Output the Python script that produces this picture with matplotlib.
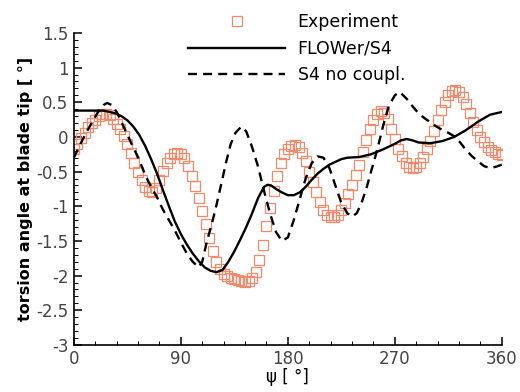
import numpy as np
import matplotlib
matplotlib.use('Agg')
import matplotlib.pyplot as plt
from matplotlib.ticker import MultipleLocator, FuncFormatter

plt.rcParams['font.family'] = ['DejaVu Sans']

# Experiment: psi every 3 deg
exp_psi = np.arange(0, 361, 3)
exp_theta = [
    -0.18, -0.10, -0.02, 0.06, 0.14, 0.20, 0.25, 0.30, 0.33, 0.33,
    0.31, 0.26, 0.19, 0.11, 0.01, -0.10, -0.23, -0.37, -0.50, -0.62,
    -0.72, -0.78, -0.79, -0.74, -0.62, -0.49, -0.38, -0.30, -0.25, -0.23,
    -0.24, -0.30, -0.42, -0.56, -0.71, -0.88, -1.07, -1.26, -1.46, -1.64,
    -1.80, -1.91, -1.97, -2.01, -2.03, -2.05, -2.07, -2.08, -2.09, -2.08,
    -2.04, -1.95, -1.78, -1.56, -1.28, -1.02, -0.78, -0.57, -0.38, -0.24,
    -0.17, -0.13, -0.12, -0.15, -0.23, -0.35, -0.50, -0.65, -0.80, -0.94,
    -1.05, -1.12, -1.16, -1.16, -1.12, -1.05, -0.95, -0.83, -0.70, -0.55,
    -0.40, -0.22, -0.05, 0.11, 0.24, 0.33, 0.37, 0.35, 0.26, 0.12,
    -0.03, -0.17, -0.28, -0.37, -0.43, -0.45, -0.43, -0.37, -0.29, -0.18,
    -0.06, 0.09, 0.24, 0.39, 0.51, 0.60, 0.66, 0.68, 0.65, 0.57,
    0.47, 0.35, 0.22, 0.10, 0.00, -0.08, -0.14, -0.19, -0.22, -0.25,
    -0.26,
]

# FLOWer/S4 coupled
flower_psi = [0, 10, 20, 25, 30, 35, 40, 45, 50, 55, 60, 65, 70, 75, 80, 85,
              90, 95, 100, 105, 110, 115, 120, 125, 130, 135, 140, 145, 150,
              155, 160, 163, 166, 170, 175, 180, 185, 190, 195, 200, 205, 210,
              215, 220, 225, 230, 240, 250, 260, 270, 275, 280, 285, 290, 300,
              310, 320, 330, 340, 350, 360]
flower_theta = [0.38, 0.38, 0.38, 0.38, 0.36, 0.34, 0.30, 0.24, 0.15, 0.03,
                -0.13, -0.32, -0.53, -0.77, -1.00, -1.22, -1.40, -1.55, -1.68,
                -1.79, -1.88, -1.93, -1.95, -1.92, -1.80, -1.65, -1.48, -1.30,
                -1.10, -0.88, -0.72, -0.69, -0.70, -0.75, -0.80, -0.84, -0.84,
                -0.80, -0.72, -0.62, -0.53, -0.46, -0.40, -0.36, -0.32, -0.30,
                -0.29, -0.25, -0.18, -0.10, -0.05, -0.03, -0.05, -0.08, -0.09,
                -0.06, 0.00, 0.10, 0.22, 0.32, 0.36]

# S4 without coupling
s4_psi = [0, 5, 10, 15, 20, 25, 28, 32, 36, 40, 45, 50, 55, 60, 65, 70, 75, 80,
          85, 90, 95, 100, 105, 108, 112, 116, 120, 124, 128, 132, 136, 141,
          145, 150, 155, 160, 165, 170, 175, 180, 185, 190, 195, 200, 205, 210,
          215, 220, 225, 230, 234, 238, 242, 246, 250, 255, 260, 265, 270, 274,
          280, 285, 290, 295, 300, 305, 310, 315, 320, 325, 330, 335, 340, 345,
          350, 355, 360]
s4_theta = [-0.30, -0.12, 0.05, 0.20, 0.35, 0.46, 0.49, 0.46, 0.36, 0.22, 0.03,
            -0.15, -0.33, -0.55, -0.72, -0.87, -1.05, -1.20, -1.35, -1.52,
            -1.68, -1.80, -1.88, -1.80, -1.50, -1.26, -0.98, -0.68, -0.37,
            -0.10, 0.06, 0.15, 0.08, -0.15, -0.43, -0.78, -1.10, -1.37, -1.50,
            -1.45, -1.20, -0.90, -0.60, -0.38, -0.28, -0.30, -0.45, -0.70,
            -0.95, -1.10, -1.15, -1.10, -0.95, -0.75, -0.50, -0.20, 0.15, 0.45,
            0.60, 0.65, 0.55, 0.44, 0.34, 0.27, 0.21, 0.15, 0.10, 0.06, 0.01,
            -0.08, -0.19, -0.28, -0.35, -0.42, -0.45, -0.43, -0.40]

fig = plt.figure(figsize=(5.2, 3.92), dpi=100)
ax = fig.add_axes([0.142, 0.12, 0.823, 0.796])

ax.plot(exp_psi, exp_theta, 's', ms=7.2, mfc='none', mec='#f08a6a', mew=0.9,
        label='Experiment')
ax.plot(flower_psi, flower_theta, '-', color='black', lw=1.7, label='FLOWer/S4')
ax.plot(s4_psi, s4_theta, color='black', lw=1.7, dashes=(3.8, 2.6),
        label='S4 no coupl.')

ax.set_xlim(0, 360)
ax.set_ylim(-3, 1.5)
ax.xaxis.set_major_locator(MultipleLocator(90))
ax.xaxis.set_minor_locator(MultipleLocator(18))
ax.yaxis.set_major_locator(MultipleLocator(0.5))
ax.yaxis.set_minor_locator(MultipleLocator(0.1))
ax.yaxis.set_major_formatter(FuncFormatter(lambda v, p: '%g' % v if abs(v) > 1e-9 else '0'))

for s in ['top', 'right']:
    ax.spines[s].set_visible(False)
for s in ['left', 'bottom']:
    ax.spines[s].set_linewidth(1.2)
ax.tick_params(which='both', direction='in', top=False, right=False,
               labelsize=12, labelcolor='#444444')
ax.tick_params(which='major', length=6, width=1.1)
ax.tick_params(which='minor', length=3, width=0.7)
ax.tick_params(axis='y', pad=4)

ax.set_xlabel('ψ [ °]', fontsize=12, labelpad=0)
ax.set_ylabel('torsion angle at blade tip [ °]', fontsize=11.5,
              fontweight='bold', labelpad=2)

fig.legend(loc='upper left', bbox_to_anchor=(0.362, 0.967), frameon=False,
           fontsize=12.5, handlelength=5.6, handletextpad=0.7, labelspacing=0.5,
           borderpad=0, borderaxespad=0)

plt.savefig('out.png', dpi=100)
